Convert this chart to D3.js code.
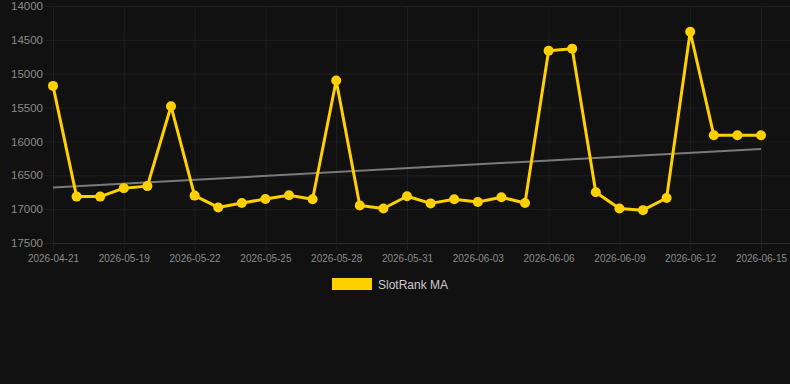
<!DOCTYPE html>
<html>
<head>
<meta charset="utf-8">
<script src="https://cdn.jsdelivr.net/npm/d3@7"></script>
<style>
  body { margin: 0; background: #111111; }
  svg { display: block; font-family: Arial, "Liberation Sans", sans-serif; }
</style>
</head>
<body>
<svg></svg>
<script>
// chart data
const dates = ['2026-04-21', '2026-05-17', '2026-05-18', '2026-05-19', '2026-05-20', '2026-05-21',
  '2026-05-22', '2026-05-23', '2026-05-24', '2026-05-25', '2026-05-26', '2026-05-27', '2026-05-28',
  '2026-05-29', '2026-05-30', '2026-05-31', '2026-06-01', '2026-06-02', '2026-06-03', '2026-06-04',
  '2026-06-05', '2026-06-06', '2026-06-07', '2026-06-08', '2026-06-09', '2026-06-10', '2026-06-11',
  '2026-06-12', '2026-06-13', '2026-06-14', '2026-06-15'];
const rankMA = [15180, 16815, 16815, 16690, 16660, 15480, 16800, 16975, 16910, 16850, 16795, 16855,
  15100, 16945, 16990, 16810, 16915, 16855, 16895, 16825, 16910, 14660, 14630, 16750, 16990, 17015,
  16835, 14380, 15910, 15910, 15910];
const trend = [16680, 16110]; // start and end of the trend line
const yTicks = [14000, 14500, 15000, 15500, 16000, 16500, 17000, 17500];
const seriesName = 'SlotRank MA';

const width = 790;
const height = 384;
const margin = {top: 6, right: 0, bottom: 141, left: 53};
const lastX = 761;

const svg = d3.select('svg')
    .attr('width', width)
    .attr('height', height);

const x = d3.scalePoint()
    .domain(dates)
    .range([margin.left, lastX]);

const y = d3.scaleLinear()
    .domain([14000, 17500])
    .range([margin.top, height - margin.bottom]);

const gridColor = '#1f1f1f';
const textColor = '#8a8a8a';

// horizontal grid + y axis
const yAxis = svg.append('g')
    .attr('transform', `translate(${margin.left},0)`)
    .call(d3.axisLeft(y).tickValues(yTicks).tickSize(8).tickFormat(d3.format('d')));
yAxis.select('.domain').remove();
yAxis.selectAll('.tick line').attr('stroke', gridColor);
yAxis.selectAll('.tick text')
    .attr('fill', textColor)
    .attr('font-size', 11.5)
    .attr('x', -10);
yAxis.selectAll('.tick').append('line')
    .attr('x1', 0)
    .attr('x2', width - margin.right - margin.left)
    .attr('stroke', d => d === 17500 ? '#2b2b2b' : gridColor);

// vertical grid + x axis
const xTicks = dates.filter((d, i) => i % 3 === 0);
const xAxis = svg.append('g')
    .attr('transform', `translate(0,${y(17500)})`)
    .call(d3.axisBottom(x).tickValues(xTicks).tickSize(7).tickPadding(5));
xAxis.select('.domain').remove();
xAxis.selectAll('.tick line').attr('stroke', gridColor);
xAxis.selectAll('.tick text')
    .attr('fill', textColor)
    .attr('font-size', 10);
xAxis.selectAll('.tick').append('line')
    .attr('y1', 0)
    .attr('y2', y(14000) - y(17500))
    .attr('stroke', gridColor);

// trend line
svg.append('line')
    .attr('x1', x(dates[0]))
    .attr('x2', x(dates[dates.length - 1]))
    .attr('y1', y(trend[0]))
    .attr('y2', y(trend[1]))
    .attr('stroke', '#7a7a7a')
    .attr('stroke-width', 2);

// series
const lineColor = '#ffd000';
const line = d3.line()
    .x((d, i) => x(dates[i]))
    .y(d => y(d));

svg.append('path')
    .datum(rankMA)
    .attr('d', line)
    .attr('fill', 'none')
    .attr('stroke', lineColor)
    .attr('stroke-width', 3)
    .attr('stroke-linejoin', 'round');

svg.selectAll('circle.pt').data(rankMA)
    .enter().append('circle')
        .attr('class', 'pt')
        .attr('cx', (d, i) => x(dates[i]))
        .attr('cy', d => y(d))
        .attr('r', 5)
        .attr('fill', lineColor);

// legend
const legend = svg.append('g').attr('transform', 'translate(332,278)');
legend.append('rect')
    .attr('width', 40)
    .attr('height', 12)
    .attr('fill', lineColor);
legend.append('text')
    .attr('x', 46)
    .attr('y', 10.5)
    .attr('fill', '#cccccc')
    .attr('font-size', 12)
    .text(seriesName);
</script>
</body>
</html>
